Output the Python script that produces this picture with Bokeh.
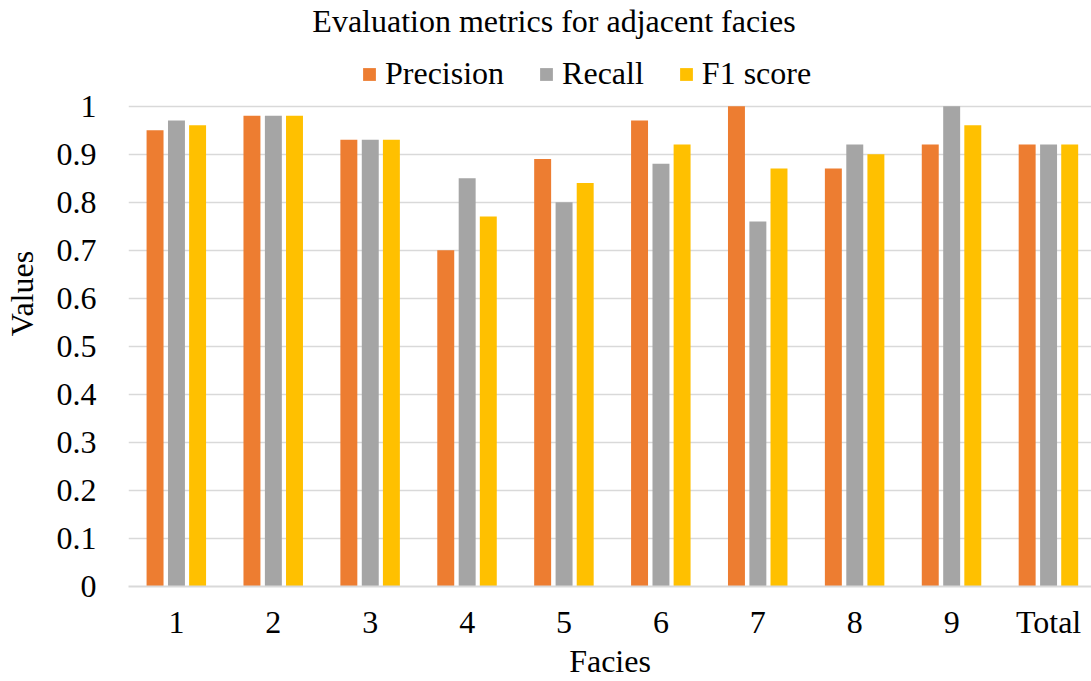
from bokeh.plotting import figure
from bokeh.models import (Range1d, FixedTicker, Legend, LegendItem, ColumnDataSource, Label)
from bokeh.transform import dodge
from bokeh.embed import file_html
from bokeh.resources import INLINE

categories = ["1", "2", "3", "4", "5", "6", "7", "8", "9", "Total"]
precision = [0.95, 0.98, 0.93, 0.70, 0.89, 0.97, 1.00, 0.87, 0.92, 0.92]
recall    = [0.97, 0.98, 0.93, 0.85, 0.80, 0.88, 0.76, 0.92, 1.00, 0.92]
f1_score  = [0.96, 0.98, 0.93, 0.77, 0.84, 0.92, 0.87, 0.90, 0.96, 0.92]
y_ticks = [i / 10 for i in range(11)]
title_text = "Evaluation metrics for adjacent facies"

FONT = "Liberation Serif"
FS = "32px"

src = ColumnDataSource(dict(x=list(range(len(categories))),
                            precision=precision, recall=recall, f1=f1_score))

# frame spans the full height above the axis; values 0..1 occupy the lower 482 px
p = figure(width=1091, height=681, output_backend="svg", toolbar_location=None,
           x_range=Range1d(-0.495, 9.443), y_range=Range1d(0, 588 / 482),
           min_border_left=127, min_border_right=0, min_border_bottom=93,
           min_border_top=0)
p.outline_line_color = None

bw = 0.175
r1 = p.vbar(x=dodge("x", -0.221, range=p.x_range), top="precision", width=bw,
            source=src, fill_color="#ED7D31", line_color=None)
r2 = p.vbar(x=dodge("x", 0.0, range=p.x_range), top="recall", width=bw,
            source=src, fill_color="#A5A5A5", line_color=None)
r3 = p.vbar(x=dodge("x", 0.218, range=p.x_range), top="f1", width=bw,
            source=src, fill_color="#FFC000", line_color=None)

title = Label(x=425.5, y=566, x_units="screen", y_units="screen",
              text=title_text, text_font=FONT, text_font_size=FS,
              text_color="#000000", text_align="center", text_baseline="middle")
p.add_layout(title)

# axes
p.xaxis.ticker = FixedTicker(ticks=list(range(len(categories))))
p.xaxis.major_label_overrides = {i: c for i, c in enumerate(categories)}
p.yaxis.ticker = FixedTicker(ticks=y_ticks)
p.yaxis.major_label_overrides = {0: "0", 1: "1"}
for ax in (p.xaxis, p.yaxis):
    ax.major_tick_line_color = None
    ax.minor_tick_line_color = None
    ax.major_label_text_font = FONT
    ax.major_label_text_font_size = FS
    ax.major_label_text_color = "#000000"
    ax.axis_label_text_font = FONT
    ax.axis_label_text_font_size = FS
    ax.axis_label_text_font_style = "normal"
    ax.axis_label_text_color = "#000000"
p.yaxis.axis_line_color = None
p.xaxis.axis_line_color = "#D9D9D9"
p.xaxis.axis_line_width = 2
p.xaxis.axis_label = "Facies"
p.yaxis.axis_label = "Values"
p.xaxis.major_label_standoff = 11
p.yaxis.major_label_standoff = 26
p.xaxis.axis_label_standoff = 0
p.yaxis.axis_label_standoff = 14

p.xgrid.grid_line_color = None
p.ygrid.grid_line_color = "#D9D9D9"
p.ygrid.grid_line_width = 1.5

legend = Legend(items=[LegendItem(label="Precision", renderers=[r1]),
                       LegendItem(label="Recall", renderers=[r2]),
                       LegendItem(label="F1 score", renderers=[r3])],
                orientation="horizontal", location=(233, 494),
                label_text_font=FONT, label_text_font_size=FS,
                label_text_color="#000000",
                glyph_width=16, glyph_height=16, label_standoff=8,
                spacing=34, padding=0, margin=0,
                border_line_color=None, background_fill_alpha=0)
p.add_layout(legend, "center")

open("out.html", "w").write(file_html(p, INLINE))
